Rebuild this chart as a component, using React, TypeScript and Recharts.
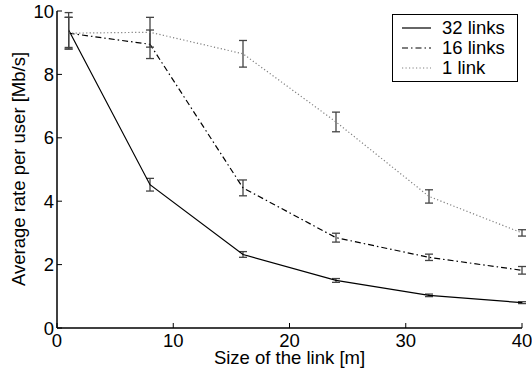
import React from 'react';
import { ComposedChart, Line, XAxis, YAxis, ErrorBar, Legend } from 'recharts';

const sizes = [1, 8, 16, 24, 32, 40];
const rate32 = [9.4, 4.52, 2.32, 1.5, 1.03, 0.8];
const err32 = [0.55, 0.2, 0.09, 0.06, 0.04, 0.03];
const rate16 = [9.3, 8.95, 4.42, 2.85, 2.23, 1.82];
const err16 = [0.5, 0.45, 0.25, 0.14, 0.1, 0.12];
const rate1 = [9.3, 9.33, 8.65, 6.5, 4.15, 3.0];
const err1 = [0.5, 0.47, 0.42, 0.31, 0.21, 0.1];

const xTicks = [0, 10, 20, 30, 40];
const yTicks = [0, 2, 4, 6, 8, 10];

const FONT = '"Liberation Sans", Arial, Helvetica, sans-serif';
const FS = 18.5;

const series = [
  { key: 'r32', name: '32 links', stroke: '#000', dash: undefined as string | undefined },
  { key: 'r16', name: '16 links', stroke: '#000', dash: '6 3 1.5 3' },
  { key: 'r1', name: '1 link', stroke: '#808080', dash: '1.2 2.3' },
];

const data = sizes.map((size, i) => ({
  size,
  r32: rate32[i],
  e32: err32[i],
  r16: rate16[i],
  e16: err16[i],
  r1: rate1[i],
  e1: err1[i],
}));

function LegendBox() {
  return (
    <div
      style={{
        boxSizing: 'border-box',
        width: 126,
        height: 68,
        border: '1.5px solid #000',
        background: '#fff',
        paddingTop: 3,
        fontFamily: FONT,
        fontSize: FS,
        color: '#000',
      }}
    >
      {series.map((s) => (
        <div key={s.key} style={{ display: 'flex', alignItems: 'center', height: 20, lineHeight: '20px' }}>
          <svg width={40} height={20} style={{ marginLeft: 9, flex: 'none' }}>
            <line x1={0} y1={10} x2={29} y2={10} stroke={s.stroke} strokeWidth={1.2} strokeDasharray={s.dash} />
          </svg>
          <span style={{ whiteSpace: 'nowrap' }}>{s.name}</span>
        </div>
      ))}
    </div>
  );
}

export default function App() {
  const tickStyle = { fill: '#000', fontSize: FS, fontFamily: FONT };
  return (
    <div style={{ position: 'absolute', left: 0, top: 0, background: '#fff' }}>
      <ComposedChart width={532} height={375} data={data} margin={{ top: 11, right: 10, left: 0, bottom: 0 }}>
        <XAxis
          dataKey="size"
          type="number"
          domain={[0, 40]}
          ticks={xTicks}
          interval={0}
          height={47}
          tickSize={-5}
          tickMargin={11}
          tick={tickStyle}
          axisLine={{ stroke: '#000', strokeWidth: 1.5 }}
          tickLine={{ stroke: '#000' }}
          label={{
            content: () => (
              <text x={289.5} y={364} textAnchor="middle" fontSize={FS} fontFamily={FONT} fill="#000">
                Size of the link [m]
              </text>
            ),
          }}
        />
        <XAxis
          xAxisId="top"
          orientation="top"
          type="number"
          domain={[0, 40]}
          ticks={xTicks}
          interval={0}
          height={0}
          tickSize={-5}
          tick={false}
          axisLine={{ stroke: '#000', strokeWidth: 1.5 }}
          tickLine={{ stroke: '#000' }}
        />
        <YAxis
          type="number"
          domain={[0, 10]}
          ticks={yTicks}
          interval={0}
          width={57}
          tickSize={-5}
          tickMargin={8}
          tick={tickStyle}
          axisLine={{ stroke: '#000', strokeWidth: 1.5 }}
          tickLine={{ stroke: '#000' }}
          label={{
            content: () => (
              <text
                x={25}
                y={169}
                transform="rotate(-90 25 169)"
                textAnchor="middle"
                fontSize={FS}
                fontFamily={FONT}
                fill="#000"
              >
                Average rate per user [Mb/s]
              </text>
            ),
          }}
        />
        <YAxis
          yAxisId="right"
          orientation="right"
          type="number"
          domain={[0, 10]}
          ticks={yTicks}
          interval={0}
          width={0}
          tickSize={-5}
          tick={false}
          axisLine={{ stroke: '#000', strokeWidth: 1.5 }}
          tickLine={{ stroke: '#000' }}
        />
        <Legend
          layout="vertical"
          align="center"
          verticalAlign="middle"
          content={() => <LegendBox />}
          wrapperStyle={{ left: 392, top: 14, width: 126 }}
        />
        <Line type="linear" dataKey="r32" name="32 links" stroke="#000" strokeWidth={1.2} dot={false} isAnimationActive={false}>
          <ErrorBar dataKey="e32" width={4} stroke="#444" strokeWidth={1.3} direction="y" isAnimationActive={false} />
        </Line>
        <Line
          type="linear"
          dataKey="r16"
          name="16 links"
          stroke="#000"
          strokeWidth={1.2}
          strokeDasharray="6 3 1.5 3"
          dot={false}
          isAnimationActive={false}
        >
          <ErrorBar dataKey="e16" width={4} stroke="#444" strokeWidth={1.3} direction="y" isAnimationActive={false} />
        </Line>
        <Line
          type="linear"
          dataKey="r1"
          name="1 link"
          stroke="#808080"
          strokeWidth={1.2}
          strokeDasharray="1.2 2.3"
          dot={false}
          isAnimationActive={false}
        >
          <ErrorBar dataKey="e1" width={4} stroke="#444" strokeWidth={1.3} direction="y" isAnimationActive={false} />
        </Line>
      </ComposedChart>
    </div>
  );
}
